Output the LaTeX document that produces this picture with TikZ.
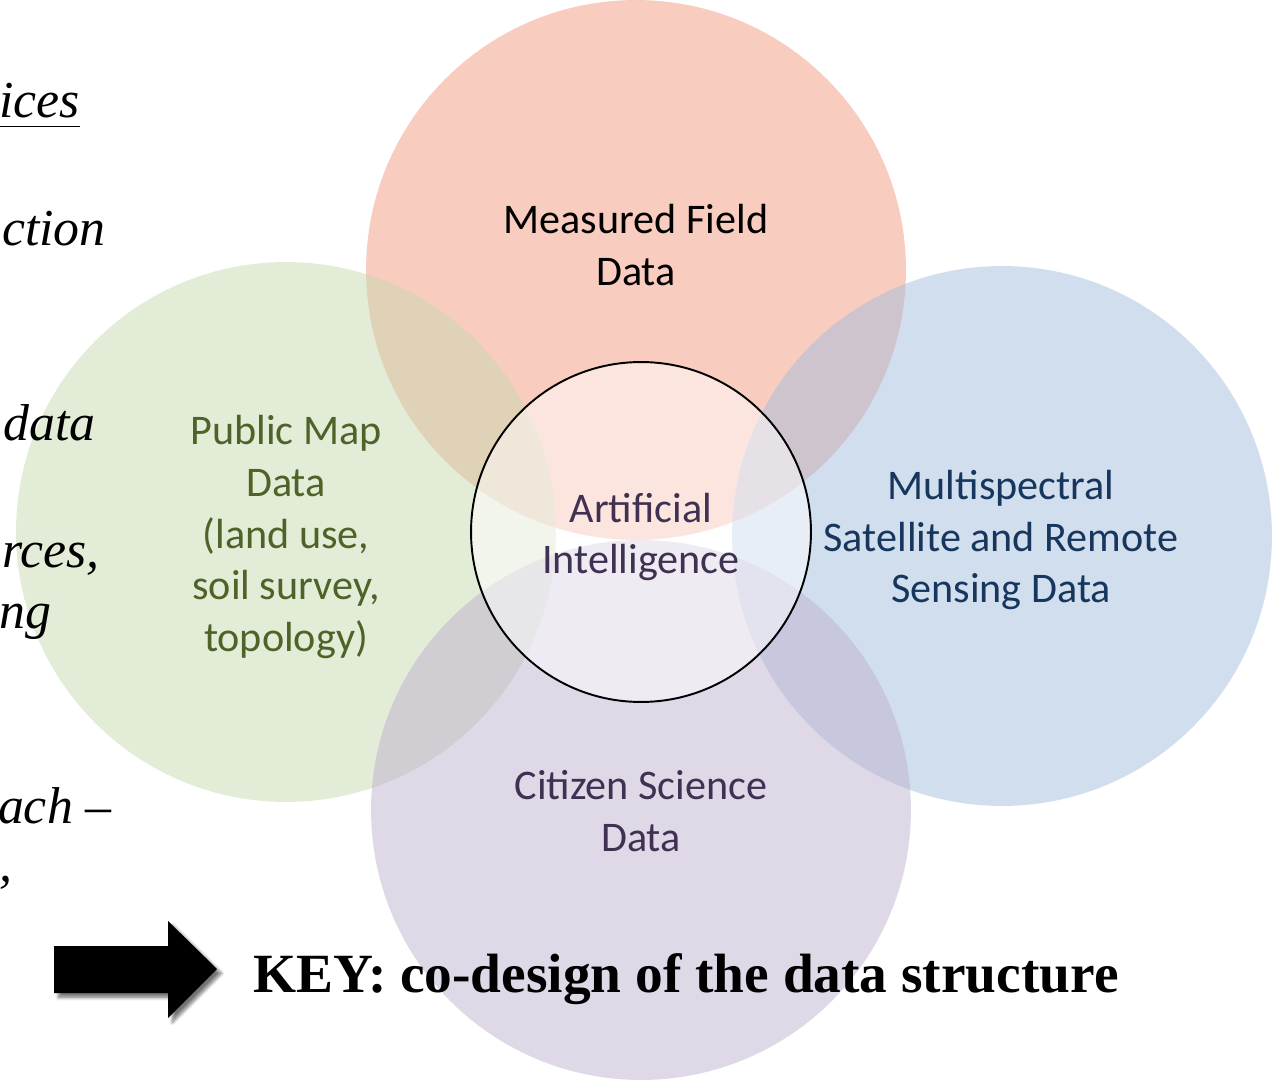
\documentclass[tikz,border=0pt]{standalone}
\usepackage{fontspec}
\setmainfont{Liberation Serif}
\newfontfamily\vennfont{Carlito}
\usetikzlibrary{shadows.blur}

\definecolor{fieldred}{RGB}{242,153,125}
\definecolor{mapgreen}{RGB}{199,217,175}
\definecolor{satblue}{RGB}{163,189,221}
\definecolor{citizenpurple}{RGB}{189,177,207}
\definecolor{mapgreentext}{RGB}{79,98,40}
\definecolor{satbluetext}{RGB}{23,54,93}
\definecolor{aipurple}{RGB}{64,49,82}

\tikzset{
  venncirc/.style={circle, minimum size=10.8cm, inner sep=0pt, fill opacity=0.5},
  aicirc/.style={circle, minimum size=6.8cm, inner sep=0pt, draw=black,
                 line width=1.1pt, fill=white, fill opacity=0.5},
  vennlabel/.style={align=center, font=\vennfont\fontsize{24}{29.5}\selectfont},
  sidetext/.style={anchor=base east, font=\fontsize{29.5}{35}\selectfont\itshape},
  keytext/.style={anchor=base west, font=\fontsize{31.5}{37}\selectfont\bfseries},
  keyarrow/.style={fill=black, blur shadow={shadow xshift=2.5pt, shadow yshift=-2.5pt,
                   shadow blur steps=6, shadow opacity=55}},
}

\begin{document}
\begin{tikzpicture}[x=0.02cm, y=-0.02cm]
  \clip (0,0) rectangle (1272,1081);

  % the four data sources
  \foreach \name/\pos/\col in {field/{(636,270)}/fieldred, map/{(286,532)}/mapgreen,
                               sat/{(1002,536)}/satblue, citizen/{(641,810)}/citizenpurple} {
    \node[venncirc, fill=\col] (\name) at \pos {};
  }
  \node[aicirc] (ai) at (641,532) {};

  \node[vennlabel] (fieldlbl) at (636,245) {Measured Field\\Data};
  \node[vennlabel, text=mapgreentext] (maplbl) at (286,537)
       {Public Map\\Data\\(land use,\\soil survey,\\topology)};
  \node[vennlabel, text=satbluetext] (satlbl) at (1001,540)
       {Multispectral\\Satellite and Remote\\Sensing Data};
  \node[vennlabel, text=aipurple] (citizenlbl) at (641,811) {Citizen Science\\Data};
  \node[vennlabel, text=aipurple] (ailbl) at ([yshift=-0.1cm]ai.center) {Artificial\\Intelligence};

  % cut-off slide text on the left
  \node[sidetext] (side1) at (86,118) {\underline{ices\rule[-3.5pt]{0pt}{0pt}}};
  \node[sidetext] (side2) at (112,246) {ction};
  \node[sidetext] (side3) at (102,440) {data};
  \node[sidetext] (side4) at (106,567) {rces,};
  \node[sidetext] (side5) at (58,628) {ng};
  \node[sidetext] (side6) at (118,823) {ach --};
  \node[sidetext] (side7) at (19,881) {,};

  % key
  \fill[keyarrow] (54,946) -- (168,946) -- (168,921) -- (217,969)
                  -- (168,1018) -- (168,993) -- (54,993) -- cycle;
  \node[keytext] (key) at (247,992) {KEY: co-design of the data structure};
\end{tikzpicture}
\end{document}
